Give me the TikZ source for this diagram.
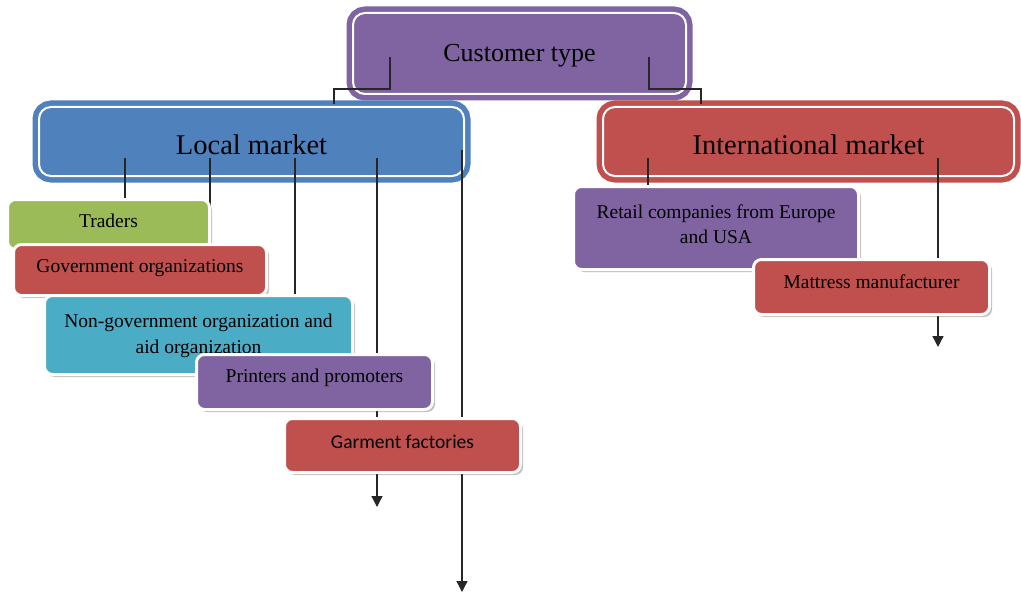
\documentclass[tikz,border=0pt]{standalone}
\usepackage{fontspec}
\setmainfont{Liberation Serif}
\newfontfamily\calfont{Carlito}
\usetikzlibrary{shadows,arrows.meta}
\definecolor{cpurple}{HTML}{8064A2}
\definecolor{cblue}{HTML}{4F81BD}
\definecolor{cred}{HTML}{C0504D}
\definecolor{cgreen}{HTML}{9BBB59}
\definecolor{ccyan}{HTML}{4BACC6}
\begin{document}
\begin{tikzpicture}[x=1pt,y=-1pt,
  mainbox/.style={rounded corners=12pt, line width=5.5pt, double=white, double distance=2pt,
    inner sep=0pt, draw=#1, fill=#1},
  subbox/.style={rounded corners=8pt, draw=white, line width=3pt, inner sep=0pt, align=center,
    fill=#1, drop shadow={shadow xshift=2.5pt, shadow yshift=-2.5pt, fill=black, opacity=0.25},
    font=\fontsize{19.5}{27}\selectfont},
  conn/.style={draw=black!85, line width=1.3pt},
  arr/.style={conn, -{Triangle[width=11pt,length=11pt]}}]
\fill[white] (0,0) rectangle (1021,594);
\useasboundingbox (0,0) rectangle (1021,594);

% main boxes
\node[mainbox=cpurple, minimum width=333pt, minimum height=81pt, text height=17pt, text depth=0pt,
  font=\fontsize{26}{30}\selectfont] (ct) at (519.5,53.5) {Customer type};
\node[mainbox=cblue, minimum width=425pt, minimum height=69pt, text height=25pt, text depth=0pt,
  font=\fontsize{28.5}{32}\selectfont] (lm) at (251.5,141.5) {Local market};
\node[mainbox=cred, minimum width=411pt, minimum height=69pt, text height=25pt, text depth=0pt,
  font=\fontsize{28.5}{32}\selectfont] (im) at (808.5,141.5) {International market};

% connectors from Customer type
\coordinate (c1) at (390,57);
\coordinate (c1b) at (334,89);
\coordinate (c2) at (649,57);
\coordinate (c2b) at (701,89);
\draw[conn] (c1) |- (c1b) -- (c1b |- lm.north);
\draw[conn] (c2) |- (c2b) -- (c2b |- im.north);

% connector end points
\coordinate (l1) at (125,158);
\coordinate (l2) at (210,158);
\coordinate (l3) at (295,158);
\coordinate (l4) at (377,158);
\coordinate (l4e) at (377,507);
\coordinate (l5) at (462,150);
\coordinate (l5e) at (462,592);
\coordinate (i1) at (648,158);
\coordinate (i2) at (938,158);
\coordinate (i2e) at (938,347);

\draw[conn] (l1) -- (125,199);
\draw[conn] (l2) -- (210,246);
\draw[conn] (l3) -- (295,297);
\draw[arr] (l4) -- (l4e);
\draw[arr] (l5) -- (l5e);
\draw[conn] (i1) -- (648,188);
\draw[arr] (i2) -- (i2e);

% local sub boxes
\node[subbox=cgreen, minimum width=202pt, minimum height=50pt, text height=5pt, text depth=0pt] (tr) at (108.5,224.5) {Traders};
\node[subbox=cred, minimum width=253pt, minimum height=51pt, text height=4pt, text depth=0pt] (gov) at (140,270) {Government organizations};
\node[subbox=ccyan, minimum width=308pt, minimum height=79pt] (ngo) at (198.5,335) {\raisebox{0pt}{\begin{tabular}{@{}c@{}}Non-government organization and\\[-1pt] aid organization\end{tabular}}};
\node[subbox=cpurple, minimum width=236pt, minimum height=55pt, text height=1pt, text depth=0pt] (pp) at (314.5,382) {Printers and promoters};
\node[subbox=cred, minimum width=236pt, minimum height=54pt, text height=5pt, text depth=0pt,
  font=\calfont\fontsize{19.5}{24}\selectfont] (gf) at (402.5,445.5) {Garment factories};

% international sub boxes
\node[subbox=cpurple, minimum width=285pt, minimum height=83pt, yshift=0pt] (rc) at (716,228) {\begin{tabular}{@{}c@{}}Retail companies from Europe\\[-2pt] and USA\\[4pt]\end{tabular}};
\node[subbox=cred, minimum width=236pt, minimum height=55pt, text height=2pt, text depth=0pt] (mm) at (871.5,287) {Mattress manufacturer};
\end{tikzpicture}
\end{document}
